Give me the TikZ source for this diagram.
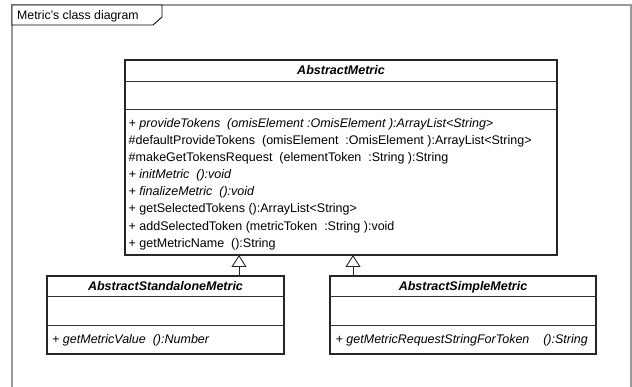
\documentclass[tikz,border=0pt]{standalone}
\usepackage{fontspec}
\setmainfont{Liberation Sans}
\usetikzlibrary{arrows.meta}
\newcommand{\umlfont}{\fontsize{12.5}{14}\selectfont}
\begin{document}
\begin{tikzpicture}[x=1pt,y=-1pt,
 cls/.style={draw=black!85, line width=1.1pt, inner sep=0pt, outer sep=0pt, anchor=north west},
 sep/.style={line width=1pt, draw=black!80},
 op/.style={anchor=base west, inner sep=0pt, font=\umlfont},
 opi/.style={anchor=base west, inner sep=0pt, font=\umlfont\itshape},
 cname/.style={anchor=base, inner sep=0pt, font=\umlfont\bfseries\itshape},
 gen/.style={draw=black!85, line width=0.9pt, -{Triangle[open, length=12pt, width=15pt]}}]
\useasboundingbox (0,0) rectangle (632,387);
% frame
\draw[black!40, line width=1.5pt] (12,390) -- (12,5) -- (631,5) -- (631,390);
\draw[black, line width=0.8pt, fill=white] (12,5) -- (162,5) -- (162,17) -- (153,25) -- (12,25) -- cycle;
\node[op, font=\fontsize{12.3}{14}\selectfont] (title) at (17,19.5) {Metric’s class diagram};
% AbstractMetric
\node[cls, minimum width=432pt, minimum height=195pt] (am) at (125,60) {};
\draw[sep] ([yshift=-22pt]am.north west) -- ([yshift=-22pt]am.north east);
\draw[sep] ([yshift=-50pt]am.north west) -- ([yshift=-50pt]am.north east);
\node[cname] (amname) at ([yshift=-14.5pt]am.north) {AbstractMetric};
\node[opi] (o1) at (128.5,127.5) {+ provideTokens~~(omisElement :OmisElement ):ArrayList<String>};
\node[op] (o2) at (128.5,144.6) {\#defaultProvideTokens~~(omisElement~~:OmisElement ):ArrayList<String>};
\node[op] (o3) at (128.5,161.7) {\#makeGetTokensRequest~~(elementToken~~:String ):String};
\node[opi] (o4) at (128.5,178.8) {+ initMetric~~():void};
\node[opi] (o5) at (128.5,195.9) {+ finalizeMetric~~():void};
\node[op] (o6) at (128.5,213) {+ getSelectedTokens ():ArrayList<String>};
\node[op] (o7) at (128.5,230.1) {+ addSelectedToken (metricToken~~:String ):void};
\node[op] (o8) at (128.5,247.2) {+ getMetricName~~():String};
% AbstractStandaloneMetric
\node[cls, minimum width=237pt, minimum height=78pt] (asm) at (47,276) {};
\draw[sep] ([yshift=-21pt]asm.north west) -- ([yshift=-21pt]asm.north east);
\draw[sep] ([yshift=-50pt]asm.north west) -- ([yshift=-50pt]asm.north east);
\node[cname] (asmname) at ([yshift=-15pt]asm.north) {AbstractStandaloneMetric};
\node[opi] (p1) at (52,343.5) {+ getMetricValue~~():Number};
% AbstractSimpleMetric
\node[cls, minimum width=266pt, minimum height=78pt] (asi) at (330,276) {};
\draw[sep] ([yshift=-21pt]asi.north west) -- ([yshift=-21pt]asi.north east);
\draw[sep] ([yshift=-50pt]asi.north west) -- ([yshift=-50pt]asi.north east);
\node[cname] (asiname) at ([yshift=-15pt]asi.north) {AbstractSimpleMetric};
\node[opi] (q1) at (335.5,343.5) {+ getMetricRequestStringForToken~~~~():String};
% generalizations
\coordinate (g1) at (239,0);
\coordinate (g2) at (353,0);
\draw[gen] (asm.north -| g1) -- (am.south -| g1);
\draw[gen] (asi.north -| g2) -- (am.south -| g2);
\end{tikzpicture}
\end{document}
